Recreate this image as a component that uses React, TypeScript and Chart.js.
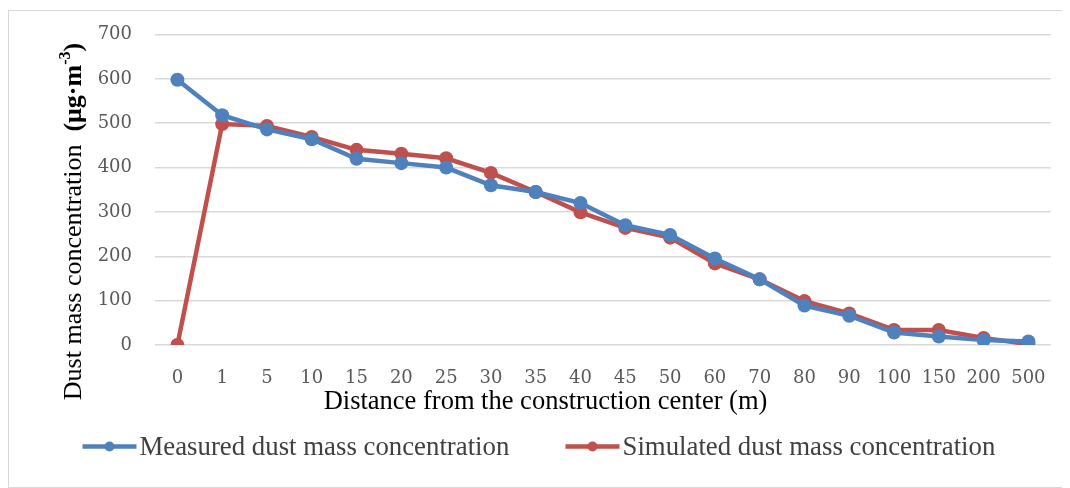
import React, { useEffect, useRef } from "react";
import { Chart, registerables } from "chart.js";

Chart.register(...registerables);

const categories = ["0", "1", "5", "10", "15", "20", "25", "30", "35", "40", "45", "50", "60", "70", "80", "90", "100", "150", "200", "500"];
const measured = [598, 518, 486, 464, 420, 410, 400, 360, 345, 320, 270, 248, 195, 148, 89, 66, 28, 19, 11, 8];
const simulated = [0, 498, 494, 469, 440, 431, 421, 388, 345, 299, 264, 242, 184, 148, 99, 71, 34, 34, 16, 2];
const yTicks = [0, 100, 200, 300, 400, 500, 600, 700];

const xTitle = "Distance from the construction center (m)";
const seriesNames = ["Measured dust mass concentration", "Simulated dust mass concentration"];

const BLUE = "#4F81BD";
const RED = "#C0504D";
const SERIF = "'Liberation Serif', 'Times New Roman', serif";
const TICKFONT = "'DejaVu Serif', serif";

const overlay = {
  id: "overlay",
  afterDraw(chart: any) {
    const ctx = chart.ctx;
    ctx.save();
    // Y title (rotated, mixed weight)
    const cx = 65.5;
    const cy = 210.5;
    ctx.translate(cx, cy);
    ctx.rotate(-Math.PI / 2);
    ctx.fillStyle = "#000";
    ctx.textBaseline = "middle";
    const fs = 26;
    const p1 = "Dust mass concentration  ";
    const p2 = "(μg·m";
    const p3 = "-3";
    const p4 = ")";
    ctx.font = `${fs}px ${SERIF}`;
    const w1 = ctx.measureText(p1).width;
    ctx.font = `bold ${fs}px ${SERIF}`;
    const w2 = ctx.measureText(p2).width;
    const w4 = ctx.measureText(p4).width;
    ctx.font = `bold 16px ${SERIF}`;
    const w3 = ctx.measureText(p3).width;
    const total = w1 + w2 + w3 + w4;
    let x = -total / 2;
    ctx.textAlign = "left";
    ctx.font = `${fs}px ${SERIF}`;
    ctx.fillText(p1, x, 0);
    x += w1;
    ctx.font = `bold ${fs}px ${SERIF}`;
    ctx.fillText(p2, x, 0);
    x += w2;
    ctx.font = `bold 16px ${SERIF}`;
    ctx.fillText(p3, x, -9);
    x += w3;
    ctx.font = `bold ${fs}px ${SERIF}`;
    ctx.fillText(p4, x, 0);
    ctx.restore();

    // X title
    ctx.save();
    ctx.fillStyle = "#000";
    ctx.font = `26.5px ${SERIF}`;
    ctx.textAlign = "center";
    ctx.textBaseline = "middle";
    ctx.fillText(xTitle, 536.5, 391.5);
    ctx.restore();

    // Legend
    ctx.save();
    const ly = 435.5;
    const items = [
      { label: seriesNames[0], color: BLUE, x0: 73.5 },
      { label: seriesNames[1], color: RED, x0: 556.5 },
    ];
    for (const it of items) {
      ctx.strokeStyle = it.color;
      ctx.lineWidth = 4.5;
      ctx.beginPath();
      ctx.moveTo(it.x0, ly);
      ctx.lineTo(it.x0 + 54, ly);
      ctx.stroke();
      ctx.fillStyle = it.color;
      ctx.beginPath();
      ctx.arc(it.x0 + 27, ly, 5, 0, Math.PI * 2);
      ctx.fill();
      ctx.fillStyle = "#404040";
      ctx.font = `26.8px ${SERIF}`;
      ctx.textAlign = "left";
      ctx.textBaseline = "middle";
      ctx.fillText(it.label, it.x0 + 57, ly + 1);
    }
    ctx.restore();
  },
};

export default function App() {
  const ref = useRef<HTMLCanvasElement>(null);
  useEffect(() => {
    if (!ref.current) return;
    const mk = (label: string, data: number[], color: string) => ({
      label,
      data,
      borderColor: color,
      backgroundColor: color,
      borderWidth: 4.5,
      pointRadius: 7,
      pointHoverRadius: 7,
      pointBackgroundColor: color,
      pointBorderColor: color,
      pointBorderWidth: 0,
      tension: 0,
    });
    const chart = new Chart(ref.current, {
      type: "line",
      data: {
        labels: categories,
        datasets: [mk(seriesNames[0], measured, BLUE), mk(seriesNames[1], simulated, RED)],
      },
      options: {
        responsive: false,
        animation: false,
        layout: { padding: { top: 23.5, right: 17, left: 0, bottom: 0 } },
        plugins: {
          legend: { display: false },
          tooltip: { enabled: false },
        },
        scales: {
          x: {
            offset: true,
            grid: { display: false, drawTicks: false },
            border: { display: false },
            ticks: {
              color: "#595959",
              font: { family: TICKFONT, size: 18 },
              padding: 23,
              maxRotation: 0,
              autoSkip: false,
            },
            afterFit(scale: any) {
              scale.height = 142;
            },
          },
          y: {
            min: 0,
            max: 700,
            afterBuildTicks(scale: any) {
              scale.ticks = yTicks.map((v) => ({ value: v }));
            },
            grid: {
              color: "#D9D9D9",
              lineWidth: 1.5,
              drawTicks: true,
              tickLength: 21,
              tickColor: "rgba(0,0,0,0)",
            },
            border: { display: false },
            ticks: {
              color: "#595959",
              font: { family: TICKFONT, size: 18 },
              padding: 2,
            },
            afterFit(scale: any) {
              scale.width = 146;
            },
          },
        },
      },
      plugins: [overlay],
    });
    return () => chart.destroy();
  }, []);
  return (
    <div
      style={{
        marginTop: 2,
        width: 1060,
        height: 476,
        border: "1.5px solid #D9D9D9",
        borderRight: "none",
        position: "relative",
        background: "#fff",
      }}
    >
      <canvas ref={ref} width={1060} height={476} style={{ display: "block" }} />
    </div>
  );
}
